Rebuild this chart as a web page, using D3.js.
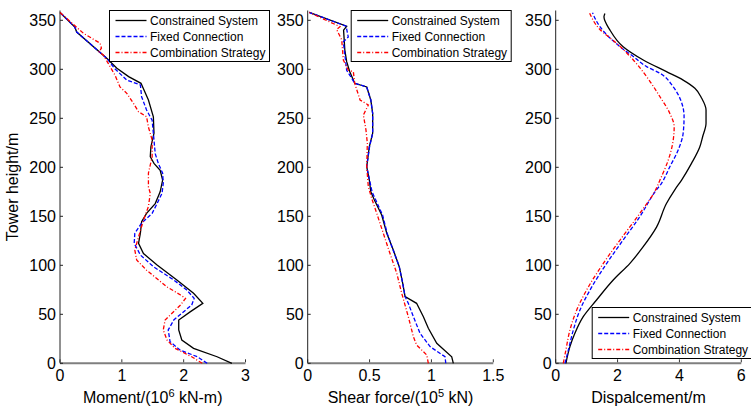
<!DOCTYPE html>
<html>
<head>
<meta charset="utf-8">
<script src="https://cdn.jsdelivr.net/npm/d3@7/dist/d3.min.js"></script>
<style>
  body { margin: 0; background: #fff; }
  svg { display: block; font-family: "Liberation Sans", Arial, sans-serif; }
  .tick-label { font-size: 16px; fill: #000; }
  .axis-title { font-size: 16px; fill: #000; }
  .legend-text { font-size: 12px; fill: #000; }
</style>
</head>
<body>
<svg id="chart" width="751" height="407"></svg>
<script>
// [height m, value]
const heightTicks = [0, 50, 100, 150, 200, 250, 300, 350];
const seriesNames = ["Constrained System", "Fixed Connection", "Combination Strategy"];

const momentTicks = [0, 1, 2, 3];
const momentConstrained = [[0,2.78],[6.7,2.54],[15.3,2.16],[23.8,1.97],[34,1.92],[44.2,1.92],[52.7,2.11],[61.2,2.31],[71.4,2.16],[85,1.89],[100.3,1.57],[112,1.35],[122.4,1.27],[132.7,1.30],[144.5,1.32],[153,1.40],[163,1.54],[175,1.62],[187,1.66],[197,1.62],[204,1.52],[210.8,1.46],[221,1.47],[234.7,1.52],[251.6,1.51],[268.7,1.43],[285.7,1.31],[292.5,1.11],[301,0.92],[311,0.76],[338,0.27],[343,0.24],[358,0]];
const momentFixed = [[0,2.38],[6.7,2.22],[13.6,1.94],[22,1.78],[34,1.75],[44.2,1.84],[59.5,2.13],[66.3,2.17],[74.8,2.05],[85,1.84],[98.6,1.51],[110.5,1.30],[122.4,1.20],[132.7,1.21],[143,1.32],[153,1.49],[163,1.57],[173.5,1.65],[183.7,1.67],[194,1.66],[204,1.59],[214,1.54],[234.7,1.51],[248,1.49],[258.5,1.40],[272,1.32],[284,1.30],[289,1.08],[301,0.88],[311,0.76],[338,0.27],[343,0.24],[358,0]];
const momentCombination = [[0,2.30],[6.7,2.13],[15.3,1.86],[23.8,1.73],[34,1.67],[44.2,1.70],[59.5,1.95],[66.3,2.03],[69.7,1.95],[78,1.73],[95,1.40],[105.4,1.24],[115.6,1.21],[129,1.27],[146,1.35],[160,1.43],[173.5,1.46],[180,1.43],[194,1.43],[210.8,1.49],[228,1.49],[241,1.43],[251.6,1.40],[256.7,1.27],[265,1.19],[275.5,1.08],[282,0.97],[294,0.89],[306,0.78],[314.6,0.70],[318,0.63],[321.5,0.67],[326.5,0.65],[336.7,0.38],[358,0]];

const shearTicks = [0, 0.5, 1, 1.5];
const shearConstrained = [[0,1.177],[6.7,1.164],[20.4,1.043],[35.7,0.975],[47.6,0.935],[61.2,0.88],[68,0.787],[81.6,0.768],[98.6,0.74],[115.6,0.692],[132.7,0.639],[151.3,0.598],[166.6,0.539],[175,0.51],[187,0.498],[200.6,0.477],[221,0.498],[234.7,0.525],[255,0.525],[268.7,0.51],[282,0.477],[285.7,0.38],[297.6,0.34],[307.8,0.315],[319.7,0.30],[340,0.29],[344,0.315],[358,0.013]];
const shearFixed = [[0,1.116],[6.7,1.11],[17,0.989],[30.6,0.908],[47.6,0.854],[61.2,0.813],[68,0.787],[81.6,0.768],[98.6,0.74],[115.6,0.69],[132.7,0.642],[151.3,0.605],[166.6,0.55],[175,0.52],[187,0.50],[200.6,0.477],[221,0.50],[234.7,0.525],[255,0.525],[268.7,0.51],[282,0.477],[285.7,0.38],[290.8,0.356],[299,0.315],[328,0.288],[333,0.328],[344,0.31],[358,0.013]];
const shearCombination = [[0,0.975],[8.5,0.962],[18.7,0.88],[27.2,0.854],[47.6,0.813],[71.4,0.76],[91.8,0.72],[112,0.665],[132.7,0.611],[153,0.558],[168.4,0.517],[180,0.49],[200.6,0.477],[224.5,0.482],[238,0.471],[253.4,0.45],[263.6,0.49],[268.7,0.423],[285.7,0.38],[297.6,0.369],[299,0.328],[309.5,0.288],[330,0.275],[340.6,0.234],[343.5,0.261],[358,0.013]];

const dispTicks = [0, 2, 4, 6];
const dispConstrained = [[0,0.33],[17,0.46],[30.6,0.62],[47.6,0.89],[64.6,1.32],[85,1.86],[102,2.40],[119,2.83],[139,3.26],[163,3.58],[177,3.85],[187,4.07],[204,4.39],[221,4.66],[231.2,4.75],[244.9,4.86],[258.5,4.86],[270.4,4.72],[280.6,4.50],[289,4.12],[297.6,3.58],[309.5,2.83],[323,2.18],[340,1.755],[353.5,1.56],[357,1.59]];
const dispFixed = [[0,0.30],[13.6,0.41],[34,0.57],[54.4,0.785],[74.8,1.11],[102,1.65],[125.8,2.18],[149.6,2.72],[175,3.21],[183.7,3.42],[200.6,3.69],[217.7,3.96],[234.7,4.12],[251.6,4.15],[268.7,4.04],[282,3.80],[296,3.37],[302.7,2.94],[313,2.51],[323,2.08],[343.5,1.43],[357.7,1.19]];
const dispCombination = [[0,0.245],[13.6,0.33],[34,0.46],[54.4,0.68],[74.8,1.00],[102,1.54],[125.8,2.08],[153,2.72],[177,3.23],[187,3.37],[207.5,3.64],[228,3.80],[241.4,3.83],[255,3.69],[272,3.37],[292.5,2.94],[309.5,2.51],[326.5,1.97],[340.6,1.43],[357.7,1.09]];

const styles = [
  { color: "#000000", dash: null },
  { color: "#0000ff", dash: "4,2" },
  { color: "#ff0000", dash: "4,2,1,2" }
];

const svg = d3.select("#chart");
const y = d3.scaleLinear().domain([0, 360]).range([363.3, 10.5]);

const panels = [
  { x0: 60, x1: 245.5, max: 3, ticks: momentTicks, series: [momentConstrained, momentFixed, momentCombination],
    title: ["Moment/(10", "6", " kN-m)"], curve: d3.curveLinear, legend: [109, 10] },
  { x0: 307.7, x1: 493.3, max: 1.5, ticks: shearTicks, series: [shearConstrained, shearFixed, shearCombination],
    title: ["Shear force/(10", "5", " kN)"], curve: d3.curveLinear, legend: [350.7, 10] },
  { x0: 555.7, x1: 741.3, max: 6, ticks: dispTicks, series: [dispConstrained, dispFixed, dispCombination],
    title: ["Dispalcement/m"], curve: d3.curveMonotoneY, legend: [591.7, 307] }
];

panels.forEach(p => {
  const x = d3.scaleLinear().domain([0, p.max]).range([p.x0, p.x1]);
  const g = svg.append("g");

  // x axis (grey baseline, inward ticks)
  g.append("line")
    .attr("x1", p.x0).attr("x2", p.x1)
    .attr("y1", y(0)).attr("y2", y(0))
    .attr("stroke", "#7f7f7f").attr("stroke-width", 2);

  p.ticks.forEach(t => {
    g.append("line")
      .attr("x1", x(t)).attr("x2", x(t))
      .attr("y1", y(0) - 1).attr("y2", y(0) - 4)
      .attr("stroke", "#333").attr("stroke-width", 1);
    g.append("text")
      .attr("class", "tick-label")
      .attr("x", x(t)).attr("y", 380.5)
      .attr("text-anchor", "middle")
      .text(t);
  });

  // y axis
  g.append("line")
    .attr("x1", p.x0).attr("x2", p.x0)
    .attr("y1", y(360)).attr("y2", y(0))
    .attr("stroke", "#222").attr("stroke-width", 1);

  heightTicks.forEach(t => {
    g.append("line")
      .attr("x1", p.x0).attr("x2", p.x0 + 3)
      .attr("y1", y(t)).attr("y2", y(t))
      .attr("stroke", "#222").attr("stroke-width", 1);
    g.append("text")
      .attr("class", "tick-label")
      .attr("x", p.x0 - 4).attr("y", y(t))
      .attr("dy", "0.36em")
      .attr("text-anchor", "end")
      .text(t);
  });

  // x title with superscript
  const title = g.append("text")
    .attr("class", "axis-title")
    .attr("x", (p.x0 + p.x1) / 2).attr("y", 403)
    .attr("text-anchor", "middle");
  title.append("tspan").text(p.title[0]);
  if (p.title.length > 1) {
    title.append("tspan").attr("dy", -6).style("font-size", "11px").text(p.title[1]);
    title.append("tspan").attr("dy", 6).text(p.title[2]);
  }

  // curves
  const line = d3.line()
    .x(d => x(d[1]))
    .y(d => y(d[0]))
    .curve(p.curve);

  p.series.forEach((data, i) => {
    g.append("path")
      .datum(data)
      .attr("d", line)
      .attr("fill", "none")
      .attr("stroke", styles[i].color)
      .attr("stroke-width", 1.3)
      .attr("stroke-dasharray", styles[i].dash);
  });

  // legend
  const lg = g.append("g").attr("transform", `translate(${p.legend[0]},${p.legend[1]})`);
  lg.append("rect")
    .attr("x", 0.5).attr("y", 0.5)
    .attr("width", 160).attr("height", 51)
    .attr("fill", "#fff").attr("stroke", "#000").attr("stroke-width", 1);

  seriesNames.forEach((name, i) => {
    const cy = 10.5 + i * 16;
    lg.append("line")
      .attr("x1", 6.5).attr("x2", 37.5)
      .attr("y1", cy).attr("y2", cy)
      .attr("stroke", styles[i].color)
      .attr("stroke-width", 1.3)
      .attr("stroke-dasharray", styles[i].dash);
    lg.append("text")
      .attr("class", "legend-text")
      .attr("x", 41).attr("y", cy)
      .attr("dy", "0.36em")
      .text(name);
  });
});

// shared y title
svg.append("text")
  .attr("class", "axis-title")
  .attr("transform", `translate(17.5,${y(180)}) rotate(-90)`)
  .attr("text-anchor", "middle")
  .text("Tower height/m");
</script>
</body>
</html>
